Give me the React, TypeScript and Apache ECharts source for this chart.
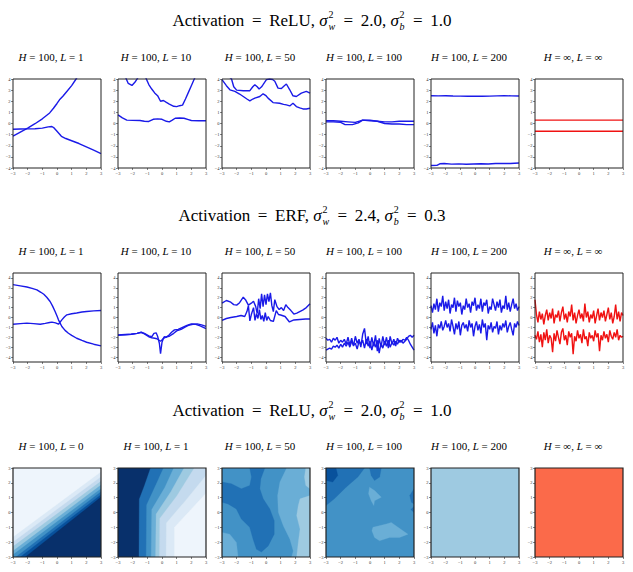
import React, { useEffect, useRef } from 'react';
import * as echarts from 'echarts';

// ---------------- layout ----------------
const WIDTH = 633;
const HEIGHT = 572;
const COL_LEFT = [13, 118, 222, 326, 431, 535];
const PANEL_W = 88;
const ROW_TOP = [79, 273, 468];
const PANEL_H = 89;
const ROW_TITLE_Y = [20, 215, 410];
const SUBTITLE_DY = 22;
const SUBTITLE_DX = -6;
const SERIF = '"Liberation Serif", "Times New Roman", serif';

// ---------------- text ----------------
const ROW_ACT = ['ReLU', 'ERF', 'ReLU'];
const ROW_SW = ['2.0', '2.4', '2.0'];
const ROW_SB = ['1.0', '0.3', '1.0'];
const PANEL_H_LABELS = ['100', '100', '100', '100', '100', '∞'];
const PANEL_L_LABELS = [
  ['1', '10', '50', '100', '200', '∞'],
  ['1', '10', '50', '100', '200', '∞'],
  ['0', '1', '50', '100', '200', '∞'],
];

// ---------------- ticks ----------------
const X_TICKS = [-3, -2, -1, 0, 1, 2, 3];
const Y_TICKS = [
  [-4, -3, -2, -1, 0, 1, 2, 3, 4],
  [-4, -3, -2, -1, 0, 1, 2, 3, 4],
  [-3, -2, -1, 0, 1, 2, 3],
];
const Y_RANGE = [[-4, 4], [-4.5, 4.5], [-3, 3]];

// ---------------- row 1 : ReLU ----------------
const R1_L1_A = [[-3, -1.14], [-2.5, -0.78], [-2, -0.42], [-1.5, -0.02], [-1, 0.42], [-0.5, 0.95], [-0.24, 1.37], [0, 1.8], [0.17, 2.13], [0.4, 2.45], [0.67, 2.88], [1.0, 3.4], [1.3, 4.0], [1.5, 4.4]];
const R1_L1_B = [[-3, -0.52], [-2.5, -0.5], [-2, -0.48], [-1.5, -0.47], [-1, -0.42], [-0.6, -0.3], [-0.35, -0.27], [-0.2, -0.4], [0, -0.7], [0.3, -1.15], [0.6, -1.35], [1, -1.55], [1.5, -1.8], [2, -2.1], [2.5, -2.4], [3, -2.7]];
const R1_L10_A = [[-3, 5.2], [-2.5, 4.2], [-2.3, 3.6], [-2.05, 3.42], [-1.85, 3.7], [-1.65, 4.1], [-1.3, 4.7], [-1.1, 4.1], [-0.9, 3.5], [-0.7, 3.1], [-0.5, 2.75], [-0.3, 2.5], [-0.1, 2.0], [0.1, 2.07], [0.3, 1.9], [0.5, 1.75], [0.8, 1.55], [1.0, 1.52], [1.2, 1.6], [1.4, 1.65], [1.6, 2.2], [1.8, 2.8], [2.0, 3.4], [2.2, 4.0], [2.5, 4.8], [3, 5.6]];
const R1_L10_B = [[-3, 0.77], [-2.7, 0.5], [-2.4, 0.3], [-2, 0.28], [-1.5, 0.27], [-1.2, 0.2], [-0.9, 0.18], [-0.6, 0.38], [-0.3, 0.42], [0, 0.38], [0.3, 0.2], [0.5, 0.15], [0.7, 0.3], [0.9, 0.47], [1.2, 0.5], [1.5, 0.47], [1.8, 0.35], [2, 0.27], [2.5, 0.25], [3, 0.25]];
const R1_L50_A = [[-3, 4.6], [-2.6, 4.3], [-2.35, 4.0], [-2.2, 3.3], [-2.0, 3.0], [-1.55, 2.95], [-1.1, 2.95], [-0.9, 3.3], [-0.76, 3.49], [-0.6, 3.3], [-0.47, 3.1], [-0.3, 3.3], [-0.2, 3.49], [0.03, 3.94], [0.25, 4.0], [0.45, 3.95], [0.6, 3.8], [0.82, 3.18], [1.05, 3.15], [1.25, 3.4], [1.39, 3.55], [1.62, 3.03], [1.84, 2.49], [2.07, 2.43], [2.41, 2.73], [2.75, 2.88], [3, 2.73]];
const R1_L50_B = [[-3, 3.94], [-2.7, 3.4], [-2.46, 3.03], [-2.12, 2.88], [-1.8, 2.65], [-1.55, 2.43], [-1.3, 2.2], [-1.1, 2.04], [-0.9, 2.2], [-0.76, 2.28], [-0.42, 2.43], [-0.2, 2.67], [0.0, 2.5], [0.14, 2.28], [0.48, 1.88], [0.93, 1.82], [1.2, 1.72], [1.39, 1.67], [1.62, 1.58], [1.84, 1.82], [2.07, 1.52], [2.3, 1.4], [2.52, 1.31], [2.75, 1.3], [3, 1.37]];
const R1_L100_A = [[-3, 0.25], [-2.5, 0.25], [-2, 0.2], [-1.5, 0.15], [-1, 0.1], [-0.5, 0.3], [0, 0.25], [0.5, 0.2], [1, 0.15], [1.5, 0.15], [2, 0.2], [2.5, 0.2], [3, 0.2]];
const R1_L100_B = [[-3, 0.15], [-2.5, 0.15], [-2, 0.1], [-1.7, -0.1], [-1.2, -0.1], [-0.8, 0.05], [-0.5, 0.3], [0, 0.3], [0.5, 0.2], [1, 0.0], [1.5, -0.05], [2, -0.05], [2.5, -0.1], [3, -0.1]];
const R1_L200_A = [[-3, 2.5], [-2.5, 2.48], [-2, 2.5], [-1.5, 2.47], [-1, 2.46], [-0.5, 2.45], [0, 2.46], [0.5, 2.45], [1, 2.46], [1.5, 2.48], [2, 2.5], [2.5, 2.48], [3, 2.47]];
const R1_L200_B = [[-3, -3.78], [-2.6, -3.76], [-2.4, -3.62], [-2.1, -3.6], [-1.6, -3.65], [-1.1, -3.63], [-0.6, -3.66], [-0.1, -3.64], [0.4, -3.62], [0.9, -3.64], [1.4, -3.6], [1.9, -3.58], [2.4, -3.6], [3, -3.55]];
const R1_INF_A = [[-3, 0.3], [3, 0.3]];
const R1_INF_B = [[-3, -0.7], [3, -0.7]];

// ---------------- row 2 : ERF ----------------
const R2_L1_A = [[-3, 3.32], [-2.5, 3.2], [-2.05, 3.08], [-1.7, 2.95], [-1.37, 2.8], [-1.1, 2.55], [-0.9, 2.35], [-0.7, 2.05], [-0.47, 1.62], [-0.3, 1.15], [-0.13, 0.6], [0.0, 0.15], [0.1, -0.24], [0.33, -0.91], [0.55, -1.3], [0.78, -1.59], [1.0, -1.8], [1.34, -2.1], [1.7, -2.32], [2.02, -2.5], [2.5, -2.7], [3, -2.87]];
const R2_L1_B = [[-3, -0.68], [-2.5, -0.62], [-2.05, -0.57], [-1.6, -0.62], [-1.14, -0.68], [-0.8, -0.6], [-0.5, -0.5], [-0.35, -0.47], [-0.1, -0.55], [0.1, -0.68], [0.2, -0.5], [0.33, -0.24], [0.5, 0.05], [0.67, 0.27], [1.0, 0.38], [1.34, 0.46], [1.7, 0.55], [2.02, 0.61], [2.5, 0.67], [3, 0.71]];
const R2_L10_A = [[-3, -1.76], [-2.5, -1.72], [-2.1, -1.69], [-1.7, -1.6], [-1.42, -1.49], [-1.2, -1.6], [-0.9, -1.85], [-0.7, -1.95], [-0.55, -1.6], [-0.4, -1.55], [-0.3, -1.9], [-0.18, -2.6], [-0.1, -3.65], [0.0, -2.5], [0.1, -2.1], [0.3, -1.95], [0.5, -1.9], [0.8, -1.6], [1.0, -1.35], [1.3, -1.2], [1.6, -0.95], [1.8, -0.8], [2.1, -0.68], [2.4, -0.65], [2.7, -0.75], [3, -0.9]];
const R2_L10_B = [[-3, -1.8], [-2.5, -1.75], [-2.1, -1.7], [-1.7, -1.6], [-1.42, -1.5], [-1.2, -1.65], [-0.9, -1.95], [-0.7, -2.05], [-0.5, -2.1], [-0.35, -2.15], [-0.2, -2.3], [-0.1, -2.4], [0.05, -2.2], [0.15, -1.95], [0.3, -2.0], [0.5, -1.75], [0.65, -1.5], [0.85, -1.25], [1.1, -1.2], [1.4, -1.0], [1.7, -0.8], [2.0, -0.65], [2.3, -0.7], [2.6, -0.85], [3, -1.12]];
const R2_L50_A = [[-3, 1.46], [-2.7, 1.72], [-2.4, 1.55], [-2.2, 1.3], [-2.0, 1.25], [-1.8, 1.5], [-1.55, 2.05], [-1.4, 1.8], [-1.2, 1.25], [-1.0, 1.45], [-0.85, 1.65], [-0.7, 1.1], [-0.6, 0.4], [-0.5, 1.9], [-0.4, 0.9], [-0.3, 2.4], [-0.2, 1.1], [-0.1, 2.3], [0.0, 1.3], [0.1, 2.4], [0.2, 1.6], [0.3, 2.5], [0.4, 1.2], [0.5, 0.6], [0.6, 1.8], [0.75, 1.1], [0.9, 0.8], [1.05, 1.0], [1.2, 0.7], [1.35, 1.3], [1.5, 1.0], [1.7, 0.7], [1.9, 0.35], [2.1, 0.45], [2.3, 0.6], [2.5, 0.75], [2.75, 1.0], [3, 1.38]];
const R2_L50_B = [[-3, -0.3], [-2.7, -0.1], [-2.4, 0.0], [-2.0, 0.1], [-1.7, 0.2], [-1.45, 0.1], [-1.3, 0.6], [-1.2, 1.2], [-1.1, -0.35], [-1.0, 0.3], [-0.85, 1.0], [-0.75, -0.3], [-0.65, 0.4], [-0.55, -0.1], [-0.45, 0.8], [-0.35, -0.2], [-0.25, 0.2], [-0.15, -0.4], [-0.05, 0.5], [0.05, -0.3], [0.15, 0.1], [0.3, -0.3], [0.5, -0.4], [0.7, 0.7], [0.85, 0.3], [1.0, 0.25], [1.3, 0.1], [1.6, -0.45], [1.9, -0.25], [2.3, -0.2], [2.7, -0.15], [3, -0.15]];
// evenly sampled over x in [-3, 3]
const R2_L100_A = [-2.1, -2.3, -2.2, -2.5, -2.1, -2.3, -2.0, -2.6, -2.3, -2.5, -2.2, -2.7, -2.0, -2.8, -2.1, -2.9, -1.9, -2.6, -2.2, -3.0, -1.7, -1.1, -2.7, -1.9, -3.1, -2.0, -2.9, -1.8, -3.4, -2.1, -3.0, -1.9, -2.8, -2.0, -3.1, -1.9, -2.7, -2.2, -2.9, -2.1, -2.5, -2.3, -2.6, -2.4, -2.2, -1.9, -1.8, -2.0, -1.8];
const R2_L100_B = [-3.3, -3.2, -3.1, -3.2, -2.9, -3.0, -2.8, -3.1, -2.7, -3.0, -2.6, -2.9, -2.5, -3.0, -2.4, -2.8, -2.6, -3.2, -2.4, -2.7, -2.3, -3.1, -2.2, -2.9, -2.4, -3.3, -2.5, -3.0, -2.3, -3.6, -2.6, -3.1, -2.4, -2.9, -2.3, -3.0, -2.5, -2.8, -2.4, -2.7, -2.3, -2.5, -2.2, -2.3, -2.0, -2.3, -2.7, -3.0, -3.3];
const R2_L200_A = [1.2, 0.5, 1.4, 0.8, 1.9, 0.6, 1.5, 1.1, 2.2, 0.7, 1.6, 0.9, 1.8, 0.4, 1.3, 1.0, 2.0, 0.6, 1.7, 1.1, 1.5, 0.3, 1.2, 0.8, 1.9, 1.0, 1.4, 0.5, 1.6, 1.2, 2.0, 0.7, 1.3, 0.9, 1.9, 0.6, 1.5, 1.2, 1.8, 0.4, 1.1, 0.8, 1.9, 1.3, 0.7, 1.6, 1.0, 1.8, 0.5, 1.2, 0.9, 2.2, 0.8, 1.5, 0.6, 1.3, 1.9, 0.9, 1.4, 0.7, 1.1];
const R2_L200_B = [-1.2, -0.5, -1.6, -0.8, -1.9, -0.7, -1.1, -0.4, -1.3, -0.9, -0.3, -1.0, -0.6, -1.4, -0.2, -0.9, -1.7, -0.6, -1.2, -0.4, -1.8, -0.8, -0.5, -1.1, -0.7, -1.4, -0.3, -1.0, -0.6, -1.9, -0.9, -0.4, -1.3, -0.7, -1.6, -0.2, -1.0, -0.6, -2.3, -0.8, -1.2, -0.5, -1.5, -0.9, -1.1, -0.4, -1.7, -0.8, -1.3, -0.6, -1.0, -0.3, -1.5, -0.9, -0.5, -1.2, -1.8, -0.6, -1.0, -0.4, -0.8];
const R2_INF_A = [1.8, 0.3, -0.5, 0.6, -0.2, 0.4, -0.7, 0.2, 0.8, -0.3, 0.5, -0.1, 0.9, -0.6, 0.3, 0.0, 0.7, -0.4, 0.5, 1.1, -0.2, 0.4, -0.5, 0.6, 0.1, 1.3, -0.3, 0.5, -0.6, 0.2, 0.8, -0.1, 0.4, -0.4, 1.4, 0.0, 0.6, -0.5, 0.3, -0.1, 0.7, -0.6, 0.2, 0.9, -0.3, 0.5, 0.0, 0.7, -0.4, 0.3, 1.0, -0.2, 0.5, -0.6, 0.1, 1.3, -0.2, 0.6, -0.4, 0.5, 0.2];
const R2_INF_B = [-1.8, -2.2, -1.4, -2.5, -1.7, -3.0, -1.5, -2.3, -1.2, -2.6, -1.8, -2.1, -3.5, -1.6, -2.4, -1.3, -2.0, -2.7, -1.5, -1.1, -2.3, -1.8, -2.8, -1.4, -2.0, -1.6, -3.7, -1.9, -2.4, -1.3, -2.1, -1.7, -2.6, -1.2, -2.2, -1.9, -2.9, -1.5, -2.1, -1.8, -2.4, -1.3, -2.0, -1.6, -3.4, -1.8, -2.3, -1.4, -2.1, -1.7, -2.5, -1.3, -1.9, -2.2, -1.5, -2.0, -1.2, -2.3, -1.8, -2.0, -1.9];

// ---------------- row 3 : contour regions (painted in order) ----------------
const BOX = [[-3, -3], [3, -3], [3, 3], [-3, 3]];
const C_L0 = [
  { lv: 0, pts: BOX },
  { lv: 1, pts: [[-3, -1.67], [3, 2.73], [3, -3], [-3, -3]] },
  { lv: 2, pts: [[-3, -2.0], [3, 2.4], [3, -3], [-3, -3]] },
  { lv: 3, pts: [[-3, -2.3], [3, 2.1], [3, -3], [-3, -3]] },
  { lv: 4, pts: [[-3, -2.6], [3, 1.85], [3, -3], [-3, -3]] },
  { lv: 5, pts: [[-3, -2.85], [3, 1.6], [3, -3], [-3, -3]] },
  { lv: 6, pts: [[-2.8, -3], [3, 1.4], [3, -3]] },
  { lv: 7, pts: [[-2.5, -3], [3, 1.2], [3, -3]] },
  { lv: 8, pts: [[-2.16, -3], [3, 1.04], [3, -3]] },
];
const C_L1 = [
  { lv: 8, pts: BOX },
  { lv: 6, pts: [[-1.57, -3], [-1.55, 0.9], [-1.2, 1.8], [-0.78, 3], [3, 3], [3, -3]] },
  { lv: 5, pts: [[-1.08, -3], [-1.05, 0.5], [-0.4, 1.9], [0.1, 3], [3, 3], [3, -3]] },
  { lv: 4, pts: [[-0.74, -3], [-0.7, 0.2], [0.2, 1.7], [0.8, 3], [3, 3], [3, -3]] },
  { lv: 3, pts: [[-0.44, -3], [-0.4, -0.1], [0.6, 1.4], [1.5, 3], [3, 3], [3, -3]] },
  { lv: 2, pts: [[-0.17, -3], [-0.15, -0.4], [1.0, 1.1], [2.2, 3], [3, 3], [3, -3]] },
  { lv: 1, pts: [[0.28, -3], [0.3, -0.7], [1.6, 0.8], [3, 2.5], [3, -3]] },
  { lv: 0, pts: [[0.85, -3], [0.85, -1.0], [3, 1.3], [3, -3]] },
];
const C_L50 = [
  { lv: 5, pts: BOX },
  { lv: 6, pts: [[-1.11, 3], [-0.08, 3], [-0.35, 2.28], [-0.42, 1.6], [-0.19, 0.92], [0.26, 0.24], [0.56, -0.55], [0.56, -1.46], [0.15, -2.25], [-0.31, -2.66], [-0.65, -2.48], [-0.88, -1.8], [-1.11, -1.0], [-1.68, -0.44], [-2.02, 0.24], [-2.59, 0.58], [-3, 0.69], [-3, 2.05], [-2.36, 1.94], [-1.68, 1.6], [-1.11, 1.82], [-0.99, 2.39]] },
  { lv: 4, pts: [[1.41, 3], [3, 3], [3, -3], [1.75, -3], [1.86, -2.59], [1.63, -1.8], [1.18, -0.89], [0.84, 0.01], [0.79, 1.14], [0.95, 2.05]] },
  { lv: 3, pts: [[2.32, 0.92], [3, 1.14], [3, -3], [2.09, -3], [2.2, -2.02], [2.32, -1.12], [2.09, -0.21], [2.2, 0.47]] },
  { lv: 3, pts: [[2.71, 3], [3, 3], [3, 1.6], [2.71, 1.82], [2.62, 2.39]] },
  { lv: 4, pts: [[-3, -1.34], [-2.47, -1.46], [-2.02, -2.02], [-1.9, -3], [-3, -3]] },
];
const C_L100 = [
  { lv: 5, pts: BOX },
  { lv: 6, pts: [[-3, 3], [-0.37, 3], [-0.83, 2.39], [-1.63, 1.71], [-2.43, 0.92], [-3, 0.47]] },
  { lv: 7, pts: [[-3, 3], [-2.32, 3], [-2.2, 2.5], [-2.54, 2.05], [-3, 2.16]] },
  { lv: 6, pts: [[-0.03, 3], [0.77, 3], [0.66, 2.39], [0.31, 2.16], [0.08, 2.5]] },
  { lv: 6, pts: [[3, 1.6], [2.71, 1.14], [2.82, 0.69], [3, 0.58]] },
  { lv: 6, pts: [[3, 0.4], [2.78, 0.2], [3, 0.0]] },
  { lv: 4, pts: [[-0.03, 1.71], [0.31, 1.48], [0.77, 1.03], [0.31, 0.8], [0.26, 0.47], [0.08, 0.8], [-0.1, 1.26]] },
  { lv: 4, pts: [[0.2, -1.0], [1.11, -0.78], [1.45, -0.67], [1.91, -1.0], [2.59, -1.46], [2.02, -1.68], [1.34, -1.68], [0.65, -1.91], [0.31, -1.68], [0.13, -1.23]] },
];
const C_L200 = [{ lv: 3, pts: BOX }];
const C_INF = [{ lv: 9, pts: BOX }];

// ---------------- styles ----------------
const PALETTE = ['#eef5fc', '#dbe9f6', '#c4daee', '#9ecae1', '#6aaed6', '#4292c6', '#2171b5', '#08519c', '#08306b', '#fb6a4a'];
const BLUE = '#1a1ae8';
const RED = '#f01212';
const AXIS_COLOR = '#333';

const spread = (ys: number[]) => ys.map((y, i) => [-3 + (6 * i) / (ys.length - 1), y]);

const LINE_ROWS = [
  [[R1_L1_A, R1_L1_B], [R1_L10_A, R1_L10_B], [R1_L50_A, R1_L50_B], [R1_L100_A, R1_L100_B], [R1_L200_A, R1_L200_B], [R1_INF_A, R1_INF_B]],
  [[R2_L1_A, R2_L1_B], [R2_L10_A, R2_L10_B], [R2_L50_A, R2_L50_B], [spread(R2_L100_A), spread(R2_L100_B)], [spread(R2_L200_A), spread(R2_L200_B)], [spread(R2_INF_A), spread(R2_INF_B)]],
];
const CONTOURS = [C_L0, C_L1, C_L50, C_L100, C_L200, C_INF];

const fmt = (v: number) => (v < 0 ? '\u2212' + Math.abs(v) : String(v));

function measure(text: string, font: string) {
  const ctx = document.createElement('canvas').getContext('2d')!;
  ctx.font = font;
  return ctx.measureText(text).width;
}

function titleElements(r: number) {
  const size = 17;
  const small = 10;
  const cx = 312;
  const cy = ROW_TITLE_Y[r];
  const TS = '\u2009';
  const parts: any[] = [
    { text: `Activation ${TS}=${TS} ${ROW_ACT[r]}, `, italic: false },
    { text: '\u03c3', italic: true },
    { sup: '2', sub: 'w' },
    { text: ` ${TS}=${TS} ${ROW_SW[r]}, `, italic: false },
    { text: '\u03c3', italic: true },
    { sup: '2', sub: 'b' },
    { text: ` ${TS}=${TS} ${ROW_SB[r]}`, italic: false },
  ];
  const f = (it: boolean, s: number) => `${it ? 'italic ' : ''}${s}px ${SERIF}`;
  const widths = parts.map((p) =>
    p.sup ? Math.max(measure(p.sup, f(false, small)), measure(p.sub, f(true, small))) + 1.5 : measure(p.text, f(p.italic, size))
  );
  const total = widths.reduce((a, b) => a + b, 0);
  let x = cx - total / 2;
  const els: any[] = [];
  parts.forEach((p, i) => {
    if (p.sup) {
      els.push({ type: 'text', x: x + 0.8, y: cy - 5.5, z: 10, style: { text: p.sup, fill: '#000', fontSize: small, fontFamily: SERIF, align: 'left', verticalAlign: 'middle' } });
      els.push({ type: 'text', x: x + 0.8, y: cy + 6, z: 10, style: { text: p.sub, fill: '#000', fontSize: small, fontStyle: 'italic', fontFamily: SERIF, align: 'left', verticalAlign: 'middle' } });
    } else {
      els.push({ type: 'text', x, y: cy, z: 10, style: { text: p.text, fill: '#000', fontSize: size, fontStyle: p.italic ? 'italic' : 'normal', fontFamily: SERIF, align: 'left', verticalAlign: 'middle' } });
    }
    x += widths[i];
  });
  return els;
}

function buildOption() {
  const grid: any[] = [];
  const xAxis: any[] = [];
  const yAxis: any[] = [];
  const series: any[] = [];
  const elements: any[] = [];

  for (let r = 0; r < 3; r++) {
    elements.push(...titleElements(r));
    for (let c = 0; c < 6; c++) {
      const idx = r * 6 + c;
      const left = COL_LEFT[c];
      const top = ROW_TOP[r];
      grid.push({ left, top, width: PANEL_W, height: PANEL_H, show: false });
      const labelStyle = { fontSize: 4.5, color: AXIS_COLOR, fontFamily: SERIF, formatter: fmt };
      const tickStyle = { show: true, length: 2, lineStyle: { color: AXIS_COLOR, width: 0.6 } };
      xAxis.push({
        gridIndex: idx, type: 'value', min: -3, max: 3, position: 'bottom',
        axisLine: { show: false, onZero: false },
        axisTick: { ...tickStyle, customValues: X_TICKS },
        axisLabel: { ...labelStyle, margin: 2.5, customValues: X_TICKS },
        splitLine: { show: false },
      });
      yAxis.push({
        gridIndex: idx, type: 'value', min: Y_RANGE[r][0], max: Y_RANGE[r][1], position: 'left',
        axisLine: { show: false, onZero: false },
        axisTick: { ...tickStyle, customValues: Y_TICKS[r] },
        axisLabel: { ...labelStyle, margin: 2.5, customValues: Y_TICKS[r] },
        splitLine: { show: false },
      });

      if (r < 2) {
        const color = c === 5 ? RED : BLUE;
        LINE_ROWS[r][c].forEach((data) => {
          series.push({
            type: 'line', xAxisIndex: idx, yAxisIndex: idx, data, showSymbol: false, symbol: 'none',
            clip: true, color, lineStyle: { color, width: 1.4 }, silent: true,
          });
        });
      } else {
        const polys = CONTOURS[c];
        series.push({
          type: 'custom', xAxisIndex: idx, yAxisIndex: idx, clip: true, silent: true,
          data: polys.map(() => [0, 0]),
          renderItem: (params: any, api: any) => {
            const poly = polys[params.dataIndex];
            const points = poly.pts.map((p: number[]) => api.coord(p));
            return { type: 'polygon', shape: { points }, style: { fill: PALETTE[poly.lv], stroke: PALETTE[poly.lv], lineWidth: 0.3 } };
          },
        });
      }

      // frame
      elements.push({
        type: 'rect', z: 100, silent: true,
        shape: { x: left, y: top, width: PANEL_W, height: PANEL_H },
        style: { fill: 'none', stroke: '#222', lineWidth: r === 2 ? 1.2 : 1 },
      });
      // subplot title
      elements.push({
        type: 'text', z: 10,
        x: left + PANEL_W / 2 + SUBTITLE_DX, y: top - SUBTITLE_DY,
        style: {
          text: `{i|H} = ${PANEL_H_LABELS[c]}, {i|L} = ${PANEL_L_LABELS[r][c]}`,
          fill: '#000', fontSize: 11, fontFamily: SERIF, align: 'center', verticalAlign: 'middle',
          rich: { i: { fontStyle: 'italic', fontSize: 11, fontFamily: SERIF, fill: '#000' } },
        },
      });
    }
  }

  return {
    animation: false,
    backgroundColor: '#fff',
    grid, xAxis, yAxis, series,
    graphic: { elements },
  };
}

export default function App() {
  const ref = useRef<HTMLDivElement>(null);
  useEffect(() => {
    if (!ref.current) return;
    const chart = echarts.init(ref.current, undefined, { renderer: 'svg', width: WIDTH, height: HEIGHT });
    chart.setOption(buildOption() as any);
    return () => chart.dispose();
  }, []);
  return <div ref={ref} style={{ position: 'absolute', left: 0, top: 0, width: WIDTH, height: HEIGHT }} />;
}
